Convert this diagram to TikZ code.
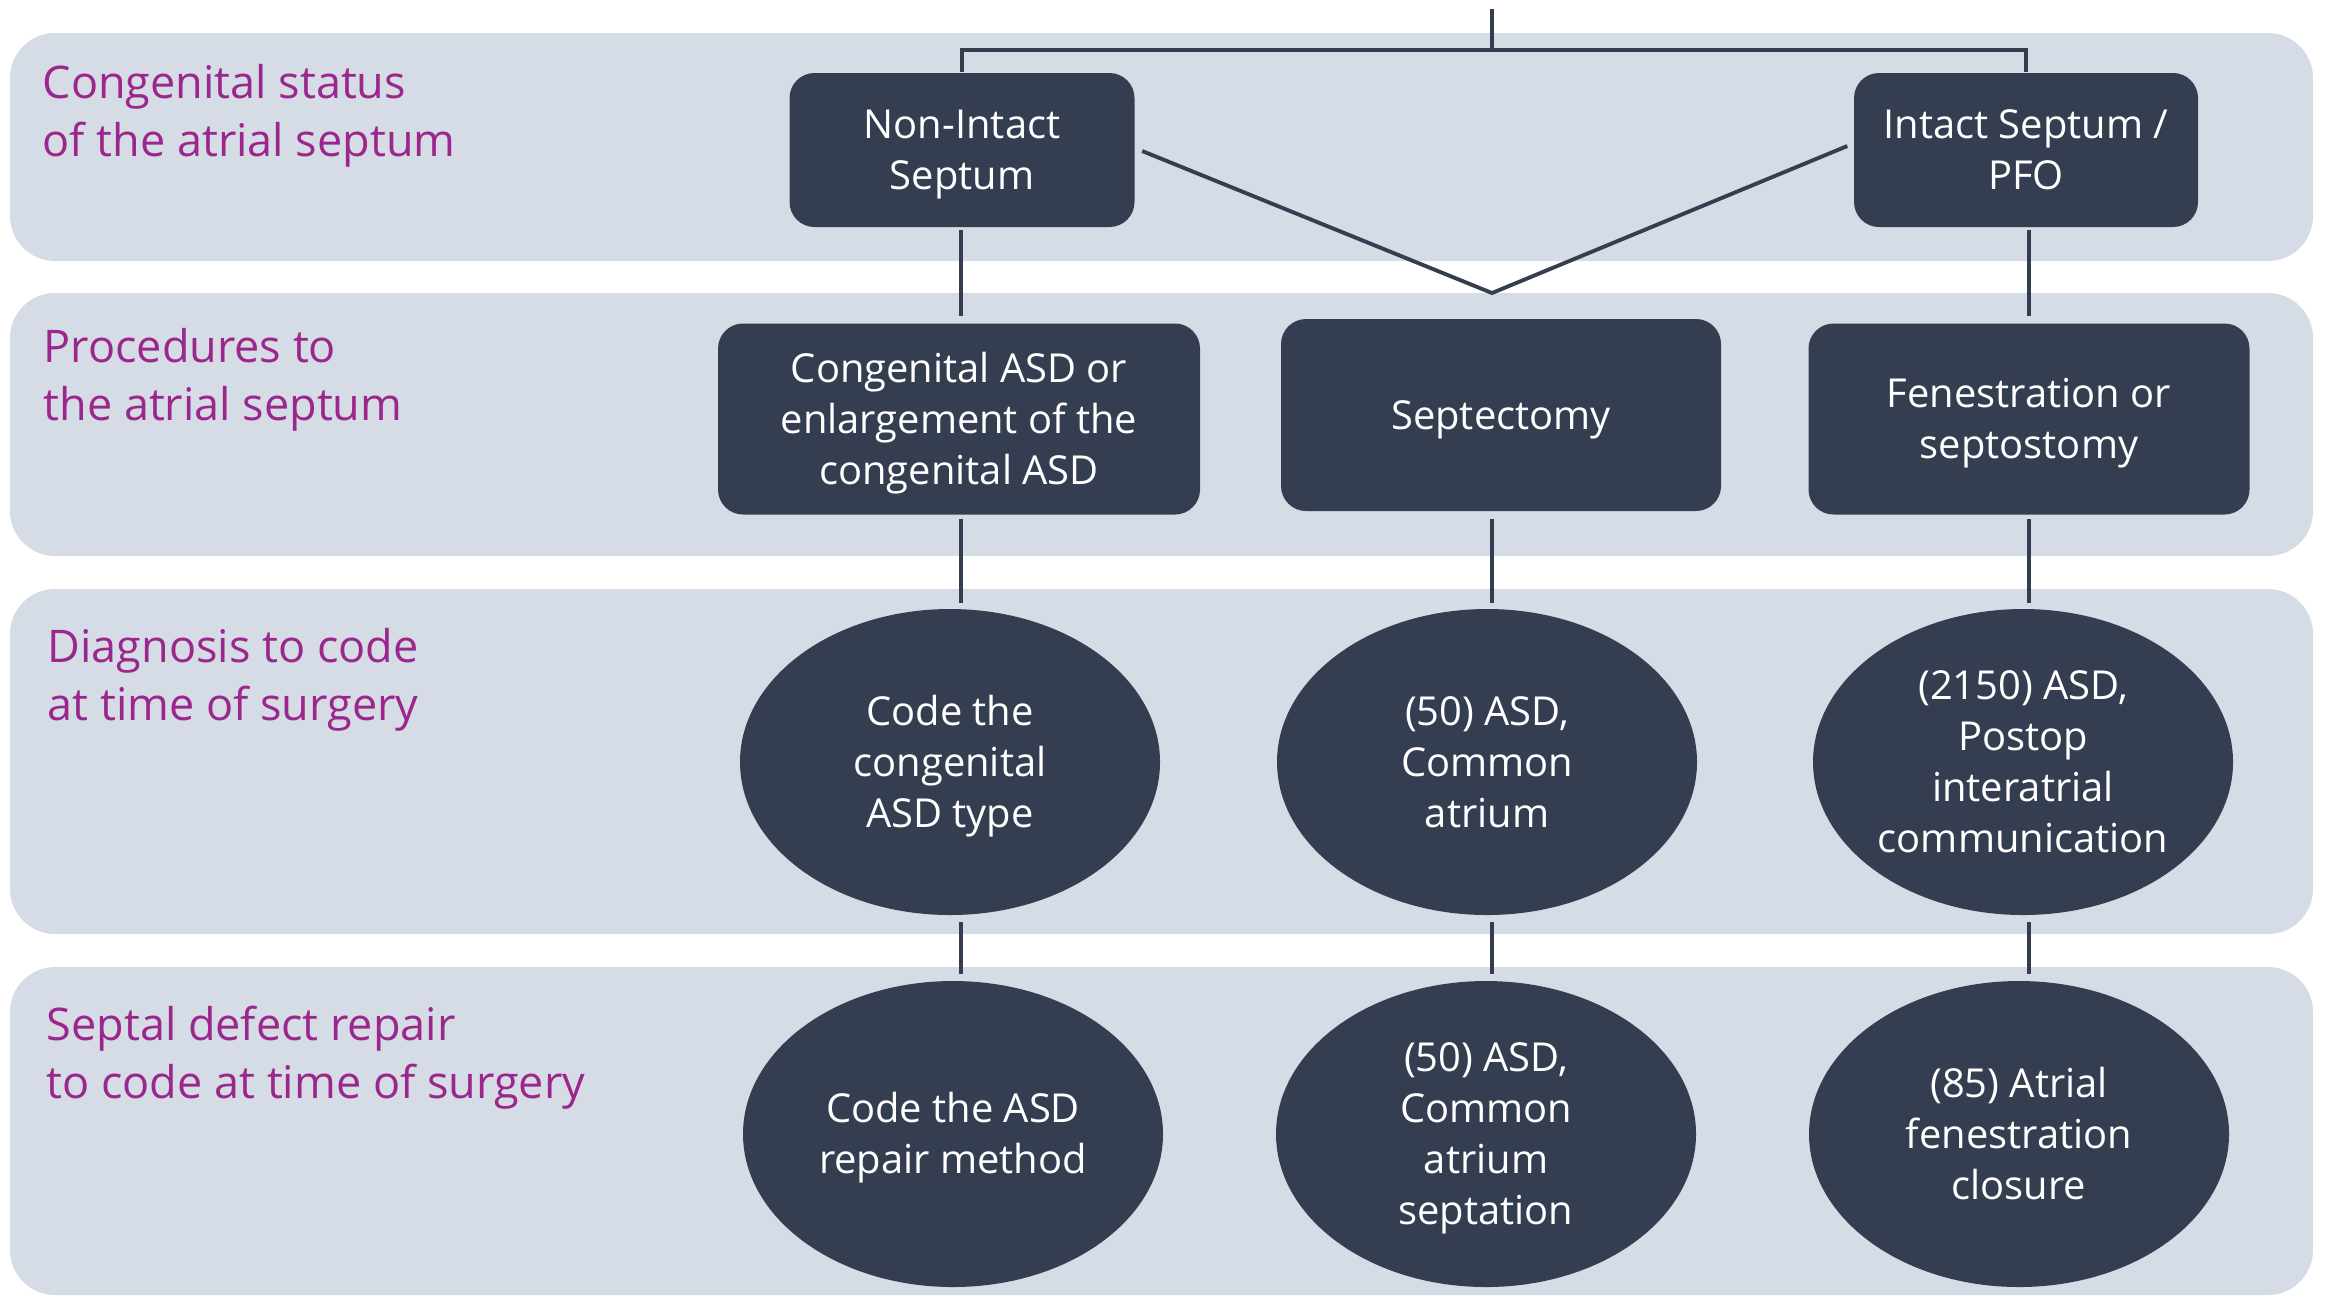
\documentclass[tikz,border=0pt]{standalone}
\usepackage{fontspec}
\setmainfont{Open Sans}
\usetikzlibrary{calc, shapes}

\definecolor{slate}{RGB}{52,62,80}
\definecolor{bandgrey}{RGB}{213,220,230}
\definecolor{plum}{RGB}{156,39,140}

% first-line strut, so that the caps sit in the middle of a node
\newcommand{\capstrut}{\rule{0pt}{.96em}}

\begin{document}
\begin{tikzpicture}
    \tikzstyle{band} = [fill=bandgrey, rounded corners=.45cm]
    \tikzstyle{rowlabel} = [anchor=north west, inner sep=0pt, align=left,
        text=plum, font=\fontsize{12.8}{16.5}\selectfont]
    \tikzstyle{capcentre} = [execute at begin node={\capstrut},
        execute at end node={\rule[-.25em]{0pt}{0pt}}]
    \tikzstyle{box} = [rectangle, rounded corners=.25cm, fill=slate,
        text=white, align=center, inner sep=0pt, capcentre,
        font=\fontsize{11.35}{14.5}\selectfont]
    \tikzstyle{oval} = [ellipse, fill=slate, text=white, align=center,
        inner sep=0pt, minimum width=4.2cm, minimum height=3.06cm, capcentre,
        font=\fontsize{11.35}{14.5}\selectfont]
    \tikzstyle{link} = [draw=slate, line width=1.1pt]

    \useasboundingbox (0,0) rectangle (23.25,-12.95);

    % Bands ---------------------------------------------
    \fill[band] (.10,-.33) rectangle (23.13,-2.61);
    \fill[band] (.10,-2.93) rectangle (23.13,-5.56);
    \fill[band] (.10,-5.89) rectangle (23.13,-9.34);
    \fill[band] (.10,-9.67) rectangle (23.13,-12.95);

    % Row labels
    \node (status) at (.42,-.64) [rowlabel] {Congenital status\\of the atrial septum};
    \node (proc) at (.43,-3.28) [rowlabel] {Procedures to\\the atrial septum};
    \node (diag) at (.47,-6.28) [rowlabel] {Diagnosis to code\\at time of surgery};
    \node (repair) at (.46,-10.05) [rowlabel] {Septal defect repair\\to code at time of surgery};
    % ---------------------------------------------------

    % Columns
    \coordinate (c1) at (9.61,0);
    \coordinate (c2) at (14.92,0);
    \coordinate (c3) at (20.29,0);

    % Congenital status
    \node (nonintact) at (9.62,-1.50) [box, minimum width=3.45cm, minimum height=1.54cm] {\capstrut Non-Intact\\Septum};
    \node (intact) at (20.26,-1.50) [box, minimum width=3.44cm, minimum height=1.54cm] {\capstrut Intact Septum /\\PFO};

    % Procedures
    \node (asd) at (9.59,-4.19) [box, minimum width=4.82cm, minimum height=1.91cm] {\capstrut Congenital ASD or\\enlargement of the\\congenital ASD};
    \node (septectomy) at (15.01,-4.15) [box, minimum width=4.40cm, minimum height=1.92cm] {Septectomy};
    \node (fenestration) at (20.29,-4.19) [box, minimum width=4.41cm, minimum height=1.91cm] {\capstrut Fenestration or\\septostomy};

    % Diagnosis
    \node (dasd) at (9.50,-7.62) [oval] {\capstrut Code the\\congenital\\ASD type};
    \node (dcommon) at (14.87,-7.62) [oval] {\capstrut (50) ASD,\\Common\\atrium};
    \node (dpostop) at (20.23,-7.62) [oval] {\capstrut (2150) ASD,\\Postop\\interatrial\\communication};

    % Repair
    \node (rasd) at (9.53,-11.34) [oval] {\capstrut Code the ASD\\repair method};
    \node (rcommon) at (14.86,-11.34) [oval] {\capstrut (50) ASD,\\Common\\atrium\\septation};
    \node (rclosure) at (20.19,-11.34) [oval] {\capstrut (85) Atrial\\fenestration\\closure};
    % ---------------------------------------------------

    % Connectors ----------------------------------------
    \coordinate (root) at (14.92,-.09);
    \coordinate (hub) at (14.92,-.50);
    \coordinate (vtip) at (14.92,-2.93);

    \draw[link] (root) -- (hub);
    \draw[link] (nonintact.north) |- (hub) -| (intact.north);
    \draw[link] ($(nonintact.east)+(.07,-.01)$) -- (vtip) -- ($(intact.west)+(-.06,.04)$);

    \draw[link] ($(nonintact.south -| c1)+(0,-.02)$) -- ($(asd.north -| c1)+(0,.07)$);
    \draw[link] ($(intact.south -| c3)+(0,-.02)$) -- ($(fenestration.north -| c3)+(0,.07)$);

    \draw[link] ($(asd.south -| c1)+(0,-.04)$) -- ($(dasd.north -| c1)+(0,.05)$);
    \draw[link] ($(septectomy.south -| c2)+(0,-.07)$) -- ($(dcommon.north -| c2)+(0,.05)$);
    \draw[link] ($(fenestration.south -| c3)+(0,-.04)$) -- ($(dpostop.north -| c3)+(0,.05)$);

    \draw[link] ($(dasd.south -| c1)+(0,-.06)$) -- ($(rasd.north -| c1)+(0,.06)$);
    \draw[link] ($(dcommon.south -| c2)+(0,-.06)$) -- ($(rcommon.north -| c2)+(0,.06)$);
    \draw[link] ($(dpostop.south -| c3)+(0,-.06)$) -- ($(rclosure.north -| c3)+(0,.06)$);
\end{tikzpicture}
\end{document}
